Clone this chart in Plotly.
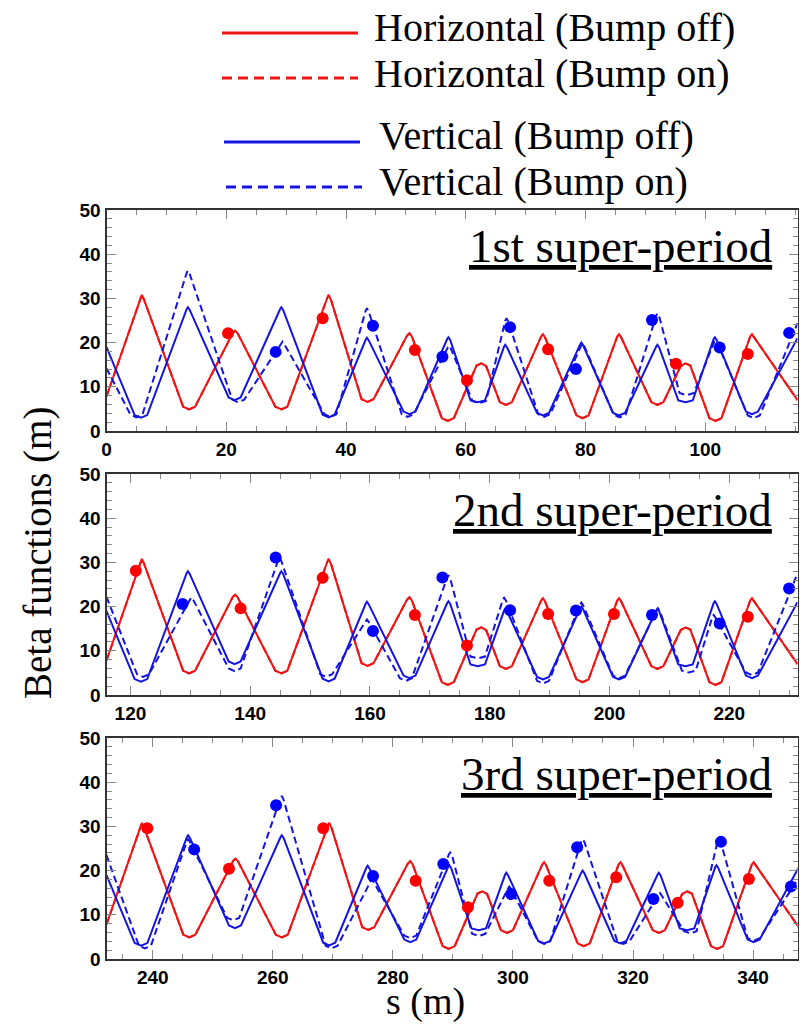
import plotly.graph_objects as go

W, H = 807, 1024
OFF = 8                      # default body margin of the html page
FW, FH = W - OFF, H - OFF    # figure size so the page fits the window

# one super-period of the bump-off optics, s measured from the period start
per_s_h = [0.0, 5.7, 5.9, 6.3, 12.8, 13.8, 14.8, 21.1, 21.5, 21.9, 28.2, 29.2, 30.2,
           36.9, 37.1, 37.5, 42.6, 43.6, 44.6, 50.2, 50.6, 51.0, 56.0, 57.0, 58.0,
           61.8, 62.6, 63.4, 65.7, 66.7, 67.7, 72.6, 72.9, 73.2, 78.5, 79.5, 80.5,
           85.3, 85.6, 85.9, 91.0, 92.0, 93.0, 95.9, 96.7, 97.5, 100.7, 101.7, 102.7,
           107.5, 107.8, 108.1, 115.4]
beta_h_off = [7.8, 30.2, 30.8, 29.6, 5.5, 4.9, 5.5, 22.2, 22.7, 22.1, 5.5, 4.9, 5.5,
              30.2, 30.8, 29.6, 7.2, 6.6, 7.2, 21.6, 22.1, 21.4, 2.9, 2.3, 2.9,
              14.8, 15.3, 14.7, 6.5, 5.9, 6.5, 21.4, 21.9, 21.3, 3.5, 2.9, 3.5,
              21.4, 21.9, 21.3, 6.5, 5.9, 6.5, 14.7, 15.3, 14.8, 2.9, 2.3, 2.9,
              21.4, 21.9, 21.3, 7.0]
# horizontal with bump on lies on top of the bump-off curve
beta_h_on = beta_h_off

per_s_v = [0.0, 4.7, 5.75, 6.8, 13.4, 13.6, 13.9, 20.4, 21.4, 22.4, 29.0, 29.2, 29.5,
           36.1, 37.1, 38.1, 43.3, 43.5, 43.8, 49.6, 50.6, 51.6, 56.9, 57.1, 57.4,
           60.8, 62.0, 63.2, 66.4, 66.6, 66.9, 71.9, 72.9, 73.9, 79.1, 79.3, 79.6,
           84.6, 85.6, 86.6, 91.8, 92.0, 92.3, 95.5, 96.7, 97.9, 101.4, 101.6, 101.9,
           106.8, 107.8, 108.8, 115.4]
beta_v_off = [19.0, 3.6, 3.0, 3.6, 27.6, 28.0, 27.4, 7.6, 7.0, 7.6, 27.6, 28.0, 27.4,
              3.7, 3.1, 3.7, 20.7, 21.1, 20.5, 4.4, 3.8, 4.4, 20.8, 21.2, 20.6,
              6.9, 6.5, 6.9, 19.1, 19.5, 18.9, 4.1, 3.5, 4.1, 19.6, 20.0, 19.4,
              4.1, 3.5, 4.1, 19.1, 19.5, 18.9, 6.9, 6.5, 6.9, 20.8, 21.2, 20.6,
              4.4, 3.8, 4.4, 21.0]

period_start = [0.0, 116.0, 232.3]
panel_range = [[0, 115.4], [116.0, 231.4], [232.3, 347.4]]

# vertical, bump on (absolute s) for each super-period
s_v_on1 = [0.0, 4.0, 5.0, 6.0, 13.4, 13.6, 13.9, 21.0, 22.0, 23.0, 29.2, 29.4, 29.7,
           36.4, 37.4, 38.4, 43.3, 43.5, 43.8, 49.3, 50.3, 51.3, 57.0, 57.2, 57.5,
           61.1, 62.25, 63.4, 66.6, 66.8, 67.1, 72.1, 73.1, 74.1, 79.3, 79.5, 79.8,
           84.7, 85.7, 86.7, 91.8, 92.0, 92.3, 95.7, 96.9, 98.1, 101.5, 101.7, 102.0,
           107.1, 108.1, 109.1, 115.4]
b_v_on1 = [14.2, 3.7, 3.1, 3.7, 35.8, 36.3, 35.5, 7.1, 6.5, 7.1, 19.8, 20.2, 19.6,
           3.8, 3.2, 3.8, 27.3, 27.8, 27.0, 3.8, 3.2, 3.8, 18.9, 19.3, 18.7,
           6.8, 6.3, 6.8, 25.0, 25.5, 24.8, 3.8, 3.2, 3.8, 19.4, 19.8, 19.2,
           3.7, 3.1, 3.7, 26.1, 26.6, 25.9, 8.6, 8.1, 8.6, 20.2, 20.6, 20.0,
           3.5, 2.9, 3.5, 24.4]
s_v_on2 = [116.0, 121.1, 122.1, 123.1, 130.0, 130.2, 130.5, 136.4, 137.4, 138.4,
           144.7, 144.9, 145.2, 151.7, 152.7, 153.7, 159.3, 159.5, 159.8, 165.0,
           166.0, 167.0, 172.9, 173.1, 173.4, 176.8, 178.0, 179.2, 182.2, 182.4,
           182.7, 187.9, 188.9, 189.9, 195.1, 195.3, 195.6, 200.6, 201.6, 202.6,
           207.9, 208.1, 208.4, 212.1, 213.25, 214.4, 217.2, 217.4, 217.7, 222.8,
           223.8, 224.8, 231.4]
b_v_on2 = [22.2, 4.7, 4.1, 4.7, 21.7, 22.1, 21.5, 6.0, 5.4, 6.0,
           30.6, 31.1, 30.3, 4.7, 4.1, 4.7, 16.7, 17.1, 16.5, 3.8,
           3.2, 3.8, 26.6, 27.1, 26.4, 8.7, 8.3, 8.7, 21.6, 22.0,
           21.4, 3.2, 2.6, 3.2, 20.5, 20.9, 20.3, 4.4, 3.8, 4.4,
           19.2, 19.6, 19.0, 5.5, 5.1, 5.5, 17.7, 18.1, 17.5, 5.1,
           4.5, 5.1, 27.5]
s_v_on3 = [232.3, 237.7, 238.7, 239.7, 245.7, 245.9, 246.2, 252.4, 253.4, 254.4,
           261.3, 261.5, 261.8, 268.8, 269.8, 270.8, 276.3, 276.5, 276.8, 281.9,
           282.9, 283.9, 289.35, 289.55, 289.85, 293.2, 294.3, 295.4, 299.2, 299.4,
           299.7, 304.2, 305.2, 306.2, 311.4, 311.6, 311.9, 317.4, 318.4, 319.4,
           324.3, 324.5, 324.8, 328.5, 329.55, 330.6, 334.1, 334.3, 334.6, 339.1,
           340.1, 341.1, 347.4]
b_v_on3 = [23.5, 3.0, 2.4, 3.0, 26.7, 27.1, 26.5, 9.3, 8.8, 9.3,
           36.4, 36.9, 36.0, 3.0, 2.4, 3.0, 17.6, 18.0, 17.4, 5.3,
           4.7, 5.3, 23.7, 24.1, 23.5, 5.7, 5.2, 5.7, 16.0, 16.4,
           15.8, 4.0, 3.4, 4.0, 26.7, 27.1, 26.5, 4.0, 3.4, 4.0,
           14.5, 14.9, 14.3, 6.3, 5.8, 6.3, 26.7, 27.1, 26.5, 4.7,
           4.1, 4.7, 17.9]
s_v_on = [s_v_on1, s_v_on2, s_v_on3]
b_v_on = [b_v_on1, b_v_on2, b_v_on3]

# measured points
red_dot_s = [20.3, 36.1, 51.5, 60.2, 73.75, 95.1, 107.1,
             120.9, 138.4, 152.1, 167.5, 176.2, 189.75, 200.75, 223.1,
             239.1, 252.7, 268.4, 283.8, 292.5, 306.05, 317.2, 327.45, 339.3]
red_dot_b = [22.1, 25.5, 18.3, 11.5, 18.5, 15.2, 17.4,
             28.1, 19.6, 26.5, 18.1, 11.2, 18.3, 18.3, 17.7,
             29.6, 20.4, 29.6, 17.7, 11.7, 17.7, 18.5, 12.7, 18.1]
blue_dot_s = [28.25, 44.5, 56.1, 67.4, 78.4, 91.1, 102.4, 114.0,
              128.7, 144.25, 160.5, 172.1, 183.4, 194.4, 207.1, 218.4, 230.0,
              246.9, 260.55, 276.7, 288.4, 299.7, 310.7, 323.4, 334.65, 346.3]
blue_dot_b = [17.9, 23.8, 16.8, 23.5, 14.0, 25.1, 18.9, 22.2,
              20.6, 31.1, 14.5, 26.6, 19.2, 19.1, 18.1, 16.2, 24.1,
              24.8, 34.8, 18.8, 21.5, 14.7, 25.3, 13.6, 26.5, 16.4]

panel_titles = ["1st super-period", "2nd super-period", "3rd super-period"]
legend_names = ["Horizontal (Bump off)", "Horizontal (Bump on)",
                "Vertical (Bump off)", "Vertical (Bump on)"]

RED = "rgb(240,20,20)"
BLUE = "rgb(20,20,225)"
SERIF = "Liberation Serif, Times New Roman, serif"
DASH = "7px,4px"

# panel boxes in window pixels (top, bottom), plot spans x 106.5..797.5
panel_px = [(210, 431), (474, 695), (738, 959)]
x0_px, x1_px = 106.5, 797.5


def px(x):
    return (x - OFF) / FW


def py(y):
    return 1 - (y - OFF) / FH


fig = go.Figure()

for i in range(3):
    xa = "x" if i == 0 else "x%d" % (i + 1)
    ya = "y" if i == 0 else "y%d" % (i + 1)
    off = period_start[i]
    lo, hi = panel_range[i]
    sh = [s + off for s in per_s_h]
    sv = [s + off for s in per_s_v]

    fig.add_trace(go.Scatter(x=sh, y=beta_h_off, mode="lines", xaxis=xa, yaxis=ya,
                             line=dict(color=RED, width=2), name=legend_names[0]))
    fig.add_trace(go.Scatter(x=sh, y=beta_h_on, mode="lines", xaxis=xa, yaxis=ya,
                             line=dict(color=RED, width=2, dash=DASH), name=legend_names[1]))
    fig.add_trace(go.Scatter(x=sv, y=beta_v_off, mode="lines", xaxis=xa, yaxis=ya,
                             line=dict(color=BLUE, width=2), name=legend_names[2]))
    fig.add_trace(go.Scatter(x=s_v_on[i], y=b_v_on[i], mode="lines", xaxis=xa, yaxis=ya,
                             line=dict(color=BLUE, width=2, dash=DASH), name=legend_names[3]))

    rs = [s for s in red_dot_s if lo <= s <= hi]
    rb = [b for s, b in zip(red_dot_s, red_dot_b) if lo <= s <= hi]
    bs = [s for s in blue_dot_s if lo <= s <= hi]
    bb = [b for s, b in zip(blue_dot_s, blue_dot_b) if lo <= s <= hi]
    fig.add_trace(go.Scatter(x=rs, y=rb, mode="markers", xaxis=xa, yaxis=ya,
                             marker=dict(color="red", size=12)))
    fig.add_trace(go.Scatter(x=bs, y=bb, mode="markers", xaxis=xa, yaxis=ya,
                             marker=dict(color="blue", size=12)))

    top, bot = panel_px[i]
    common = dict(showline=True, linecolor="#333", linewidth=2, mirror="ticks",
                  ticks="inside", tickcolor="#888", tickwidth=1, showgrid=False,
                  zeroline=False, automargin=False,
                  tickfont=dict(family="Liberation Sans, Arial", size=19,
                                color="black", weight="bold"))
    fig.layout["xaxis" if i == 0 else "xaxis%d" % (i + 1)] = dict(
        common, domain=[px(x0_px), px(x1_px)], range=[lo, hi], anchor=ya,
        dtick=20, tick0=0, ticklen=9,
        minor=dict(ticks="inside", ticklen=5, dtick=5, tick0=0, tickcolor="#888"))
    fig.layout["yaxis" if i == 0 else "yaxis%d" % (i + 1)] = dict(
        common, domain=[py(bot), py(top)], range=[0, 50], anchor=xa,
        dtick=10, tick0=0, ticklen=9,
        minor=dict(ticks="inside", ticklen=5, dtick=2, tick0=0, tickcolor="#888"))

    fig.add_annotation(text="<u>" + panel_titles[i] + "</u>", xref="paper", yref="paper",
                       x=px(774), y=py(top + 36), xanchor="right", yanchor="middle",
                       showarrow=False, font=dict(family=SERIF, size=47, color="black"))

# legend drawn as key lines + labels above the panels
key_rows = [(33, 28, RED, "solid", 222, 372), (78, 73, RED, "dash", 222, 372),
            (142, 135, BLUE, "solid", 224, 377), (187, 181, BLUE, "dash", 226, 377)]
for (ly, ty, col, style, lx, tx), name in zip(key_rows, legend_names):
    fig.add_shape(type="line", xref="paper", yref="paper", x0=px(lx), x1=px(lx + 136),
                  y0=py(ly), y1=py(ly),
                  line=dict(color=col, width=3, dash="10px,6px" if style == "dash" else "solid"))
    fig.add_annotation(text=name, xref="paper", yref="paper", x=px(tx), y=py(ty),
                       xanchor="left", yanchor="middle", showarrow=False,
                       font=dict(family=SERIF, size=40, color="black"))

fig.add_annotation(text="Beta functions (m)", xref="paper", yref="paper",
                   x=px(38), y=py(553), textangle=-90, showarrow=False,
                   xanchor="center", yanchor="middle",
                   font=dict(family=SERIF, size=39, color="black"))
fig.add_annotation(text="s (m)", xref="paper", yref="paper",
                   x=px(425), y=py(1001), showarrow=False,
                   xanchor="center", yanchor="middle",
                   font=dict(family=SERIF, size=38, color="black"))

fig.update_layout(width=FW, height=FH, margin=dict(l=0, r=0, t=0, b=0),
                  showlegend=False, plot_bgcolor="white", paper_bgcolor="white")

fig.write_html("out.html")
